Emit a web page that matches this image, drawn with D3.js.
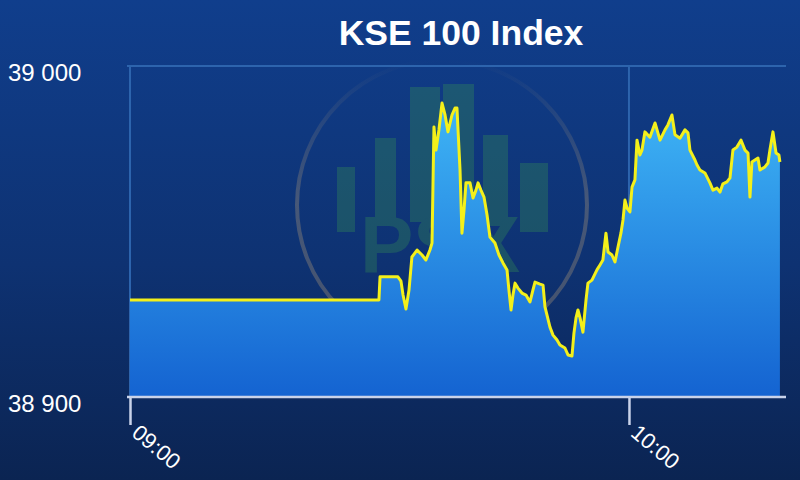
<!DOCTYPE html>
<html>
<head>
<meta charset="utf-8">
<script src="https://cdn.jsdelivr.net/npm/d3@7"></script>
<style>
  html, body { margin: 0; padding: 0; background: #0c2654; }
  svg { display: block; }
</style>
</head>
<body>
<svg id="chart" width="800" height="480"></svg>
<script>
const title = "KSE 100 Index";
const yTicks = [38900, 39000];
const xTickLabels = ["09:00", "10:00"];
const times = [
  "09:00:00","09:29:56","09:30:04","09:32:13","09:32:35","09:32:50","09:33:11","09:33:33","09:33:54","09:34:31",
  "09:35:07","09:35:35","09:36:04","09:36:19","09:36:33","09:36:48","09:37:09","09:37:31","09:37:53","09:38:14",
  "09:38:43","09:39:05","09:39:19","09:39:41","09:39:55","09:40:10","09:40:24","09:40:53","09:41:15","09:41:36",
  "09:41:51","09:42:12","09:42:34","09:42:56","09:43:17","09:43:53","09:44:22","09:44:51","09:45:20","09:45:34",
  "09:45:49","09:46:03","09:46:18","09:46:39","09:47:08","09:47:37","09:48:06","09:48:27","09:48:42","09:49:18",
  "09:49:40","09:49:54","09:50:30","09:50:52","09:51:21","09:51:42","09:52:18","09:52:40","09:53:09","09:53:23",
  "09:53:38","09:53:52","09:54:07","09:54:28","09:54:50","09:55:04","09:55:33","09:56:09","09:56:31","09:56:52",
  "09:57:14","09:57:29","09:57:57","09:58:19","09:58:41","09:59:02","09:59:17","09:59:31","09:59:46","10:00:07",
  "10:00:22","10:00:43","10:00:58","10:01:19","10:01:34","10:01:55","10:02:31","10:03:08","10:03:44","10:04:20",
  "10:04:41","10:05:10","10:05:32","10:06:08","10:06:44","10:07:06","10:07:20","10:07:56","10:08:11","10:08:32",
  "10:09:08","10:09:44","10:10:06","10:10:35","10:10:57","10:11:18","10:11:47","10:12:09","10:12:30","10:12:59",
  "10:13:28","10:13:57","10:14:19","10:14:33","10:14:47","10:15:09","10:15:31","10:15:45","10:16:21","10:16:43",
  "10:16:57","10:17:19","10:17:41","10:18:02","10:18:09"
];
const values = [
  38929.3,38929.3,38936.3,38936.3,38935.0,38930.8,38926.6,38932.3,38942.3,38944.4,
  38942.9,38941.4,38944.4,38946.5,38981.6,38974.6,38980.7,38988.8,38985.2,38980.1,
  38985.2,38987.3,38987.3,38968.6,38949.5,38956.5,38964.7,38964.7,38960.1,38962.5,
  38964.7,38962.5,38960.4,38955.0,38948.3,38946.5,38942.9,38940.5,38938.4,38932.3,
  38926.3,38930.8,38934.4,38932.9,38931.4,38930.8,38928.7,38932.3,38934.7,38934.1,
  38933.8,38927.2,38921.1,38918.7,38917.2,38915.7,38914.8,38912.7,38912.4,38919.3,
  38923.9,38926.3,38923.9,38919.6,38929.3,38934.4,38935.3,38938.4,38939.9,38941.4,
  38949.5,38943.8,38942.9,38940.8,38945.3,38949.5,38953.5,38959.5,38957.1,38955.9,
  38963.4,38965.6,38977.6,38973.1,38974.6,38980.1,38978.5,38982.8,38977.6,38980.7,
  38982.2,38985.2,38979.2,38978.2,38980.7,38979.8,38974.6,38971.6,38970.1,38968.6,
  38967.7,38964.7,38962.5,38963.1,38961.9,38964.4,38965.0,38966.2,38974.6,38975.5,
  38977.6,38974.6,38973.7,38960.4,38971.0,38971.6,38972.2,38968.6,38969.5,38970.7,
  38974.6,38980.1,38973.7,38973.1,38971.0
];

const W = 800, H = 480;
const parse = d3.timeParse("%H:%M:%S");
const parseHM = d3.timeParse("%H:%M");
const data = times.map((t, i) => ({ t: parse(t), v: values[i] }));

const svg = d3.select("#chart");
const defs = svg.append("defs");

const bg = defs.append("linearGradient").attr("id", "bg").attr("x1", 0).attr("y1", 0).attr("x2", 0).attr("y2", 1);
bg.append("stop").attr("offset", "0%").attr("stop-color", "#103e8c");
bg.append("stop").attr("offset", "55%").attr("stop-color", "#0e3272");
bg.append("stop").attr("offset", "100%").attr("stop-color", "#0b2452");

const fillG = defs.append("linearGradient").attr("id", "fillG").attr("gradientUnits", "userSpaceOnUse")
  .attr("x1", 0).attr("y1", 100).attr("x2", 0).attr("y2", 397);
fillG.append("stop").attr("offset", "0%").attr("stop-color", "#3fb6f6");
fillG.append("stop").attr("offset", "100%").attr("stop-color", "#1463d1");

const ringG = defs.append("linearGradient").attr("id", "ringG").attr("gradientUnits", "userSpaceOnUse")
  .attr("x1", 0).attr("y1", 60).attr("x2", 0).attr("y2", 200);
ringG.append("stop").attr("offset", "0%").attr("stop-color", "#c8a878").attr("stop-opacity", 0);
ringG.append("stop").attr("offset", "100%").attr("stop-color", "#c8a878").attr("stop-opacity", 0.3);

svg.append("rect").attr("width", W).attr("height", H).attr("fill", "url(#bg)");

const x = d3.scaleTime().domain([parse("09:00:00"), parse("10:18:53")]).range([130, 786]);
const y = d3.scaleLinear().domain([38900, 39000]).range([397, 66]);

// Watermark (PSX logo, faint)
const wm = svg.append("g");
wm.append("circle").attr("cx", 442).attr("cy", 205).attr("r", 145)
  .attr("fill", "none").attr("stroke", "url(#ringG)").attr("stroke-width", 4);
const bars = [
  [337, 355, 167, 232], [375, 396, 138, 226], [410, 440, 87, 222],
  [443, 474, 84, 222], [483, 508, 135, 226], [520, 548, 163, 232]
];
const wmBars = wm.append("g").attr("opacity", 0.3);
bars.forEach(b => {
  wmBars.append("rect").attr("x", b[0]).attr("y", b[2]).attr("width", b[1] - b[0]).attr("height", b[3] - b[2])
    .attr("fill", "#3a9a50");
});
wmBars.append("text").attr("x", 440).attr("y", 272).attr("text-anchor", "middle")
  .attr("font-family", "Liberation Sans, Arial, sans-serif").attr("font-weight", "bold")
  .attr("font-size", 80).attr("fill", "#3a9a50").text("PSX");

// Grid / frame
const gridColor = "#2d64ad";
svg.append("line").attr("x1", 127).attr("x2", 786).attr("y1", y(39000)).attr("y2", y(39000))
  .attr("stroke", gridColor).attr("stroke-width", 2);
svg.append("line").attr("x1", x(parseHM("09:00"))).attr("x2", x(parseHM("09:00")))
  .attr("y1", y(39000)).attr("y2", y(38900)).attr("stroke", gridColor).attr("stroke-width", 2);
svg.append("line").attr("x1", x(parseHM("10:00"))).attr("x2", x(parseHM("10:00")))
  .attr("y1", y(39000)).attr("y2", y(38900)).attr("stroke", gridColor).attr("stroke-width", 2);

// Area + line
const area = d3.area().x(d => x(d.t)).y0(y(38900)).y1(d => y(d.v));
const line = d3.line().x(d => x(d.t)).y(d => y(d.v));
svg.append("path").datum(data).attr("d", area).attr("fill", "url(#fillG)");
svg.append("path").datum(data).attr("d", line).attr("fill", "none")
  .attr("stroke", "#f4f01a").attr("stroke-width", 3).attr("stroke-linejoin", "round");

// X axis
const xAxis = d3.axisBottom(x).tickValues(xTickLabels.map(parseHM)).tickSize(28).tickFormat(d3.timeFormat("%H:%M"));
const gx = svg.append("g").attr("transform", `translate(0,${y(38900)})`).call(xAxis);
gx.select(".domain").attr("d", "M127,0H786").attr("stroke", "#c9d3ea").attr("stroke-width", 2.5);
gx.selectAll(".tick line").attr("stroke", "#c9d3ea").attr("stroke-width", 2.5);
gx.selectAll(".tick text")
  .attr("font-family", "Liberation Sans, Arial, sans-serif").attr("font-size", 22).attr("fill", "#ffffff")
  .attr("text-anchor", "start").attr("dy", null).attr("y", 0)
  .attr("transform", "translate(0,38) rotate(40)");

// Y axis labels
const yAxis = d3.axisLeft(y).tickValues(yTicks).tickSize(0).tickFormat(d => d3.format(",")(d).replace(",", " "));
const gy = svg.append("g").attr("transform", "translate(8,0)").call(yAxis);
gy.select(".domain").remove();
gy.selectAll(".tick text").attr("text-anchor", "start").attr("x", 0).attr("dy", "0.42em")
  .attr("font-family", "Liberation Sans, Arial, sans-serif").attr("font-size", 24).attr("fill", "#ffffff");
gy.selectAll(".tick").attr("transform", d => `translate(0,${y(d) + 5})`);

// Title
svg.append("text").attr("x", 461).attr("y", 45).attr("text-anchor", "middle")
  .attr("font-family", "Liberation Sans, Arial, sans-serif").attr("font-weight", "bold")
  .attr("font-size", 35.5).attr("fill", "#ffffff").text(title);
</script>
</body>
</html>
